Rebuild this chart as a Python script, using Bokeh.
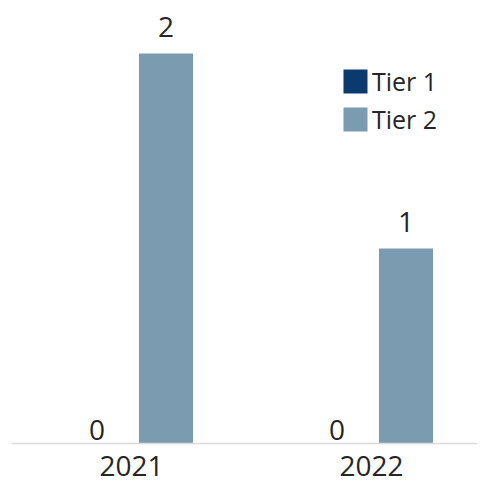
import numpy as np
from bokeh.plotting import figure
from bokeh.models import ColumnDataSource, Range1d, FixedTicker, Legend, LegendItem, LabelSet
from bokeh.core.properties import value
from bokeh.transform import dodge
from bokeh.embed import file_html
from bokeh.resources import INLINE

years = ["2021", "2022"]
tier1 = [0, 0]
tier2 = [2, 1]
series_names = ["Tier 1", "Tier 2"]
colors = ["#0b3a6f", "#7b9bb0"]

FONT = "Open Sans"
TXT = "#262626"

x = list(range(len(years)))
src = ColumnDataSource(dict(x=x, tier1=tier1, tier2=tier2,
                            l1=[str(v) for v in tier1], l2=[str(v) for v in tier2]))

W, H = 477, 488
BASE = 443
p = figure(width=W, height=H, output_backend="svg", toolbar_location=None,
           x_range=Range1d(-0.5, -0.5 + (W - 11) / 240), y_range=Range1d(0, BASE / 195),
           min_border_left=11, min_border_right=0, min_border_top=0, min_border_bottom=H - BASE)
p.outline_line_color = None
p.background_fill_color = "white"
p.border_fill_color = "white"
p.xgrid.visible = False
p.ygrid.visible = False
p.yaxis.visible = False

off = 34.5 / 240
bw = 54 / 240
r1 = p.vbar(x=dodge("x", -off, range=p.x_range), top="tier1", width=bw, source=src,
            color=colors[0], line_color=None)
r2 = p.vbar(x=dodge("x", off, range=p.x_range), top="tier2", width=bw, source=src,
            color=colors[1], line_color=None)

for col, lab, o, yo in (("tier1", "l1", -off, 4), ("tier2", "l2", off, 17)):
    p.add_layout(LabelSet(x=dodge("x", o, range=p.x_range), y=col, text=lab, source=src,
                          text_align="center", text_baseline="alphabetic", y_offset=yo,
                          text_font=value(FONT), text_font_size="28px", text_color=TXT))

ax = p.xaxis[0]
ax.ticker = FixedTicker(ticks=x)
ax.major_label_overrides = {i: y for i, y in zip(x, years)}
ax.major_tick_line_color = None
ax.minor_tick_line_color = None
ax.axis_line_color = "#d9d9d9"
ax.axis_line_width = 1.5
ax.major_label_text_font = FONT
ax.major_label_text_font_size = "28px"
ax.major_label_text_color = TXT
ax.major_label_standoff = 6

legend = Legend(items=[LegendItem(label=series_names[0], renderers=[r1]),
                       LegendItem(label=series_names[1], renderers=[r2])],
                location=(329, 307), orientation="vertical",
                glyph_width=30, glyph_height=30, label_height=30, spacing=4,
                label_standoff=2, padding=0, margin=0,
                border_line_color=None, background_fill_alpha=0,
                label_text_font=FONT, label_text_font_size="25px", label_text_color=TXT)
p.add_layout(legend, "center")

open("out.html", "w").write(file_html(p, INLINE))
